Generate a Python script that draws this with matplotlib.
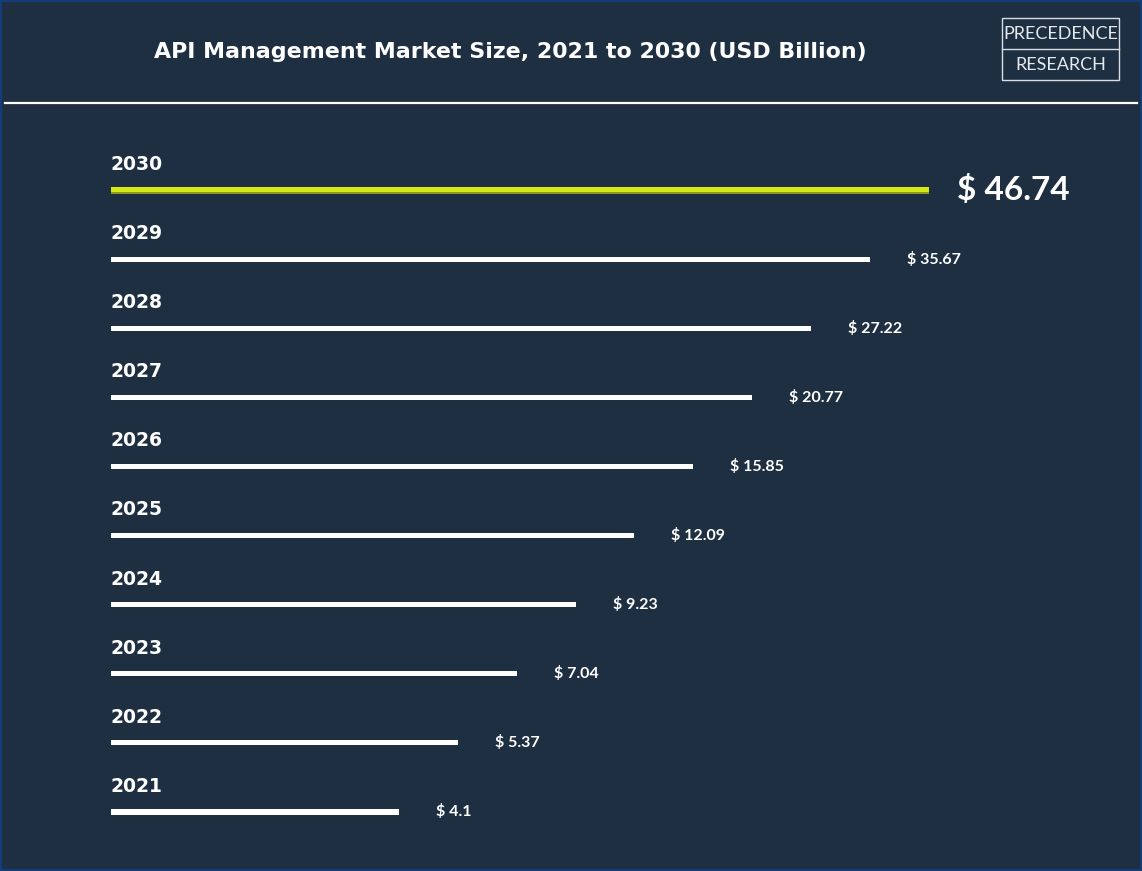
import matplotlib.pyplot as plt
from matplotlib.patches import Rectangle

# data
years = ['2021', '2022', '2023', '2024', '2025', '2026', '2027', '2028', '2029', '2030']
values = [4.1, 5.37, 7.04, 9.23, 12.09, 15.85, 20.77, 27.22, 35.67, 46.74]
# the bars in the original are drawn by rank, not to scale
bar_len = [4.88, 5.88, 6.88, 7.88, 8.86, 9.86, 10.86, 11.86, 12.86, 13.86]

bg = '#1f2f42'
lime = '#d4e816'
narrow = ['Lato', 'DejaVu Sans']
sans = ['DejaVu Sans']

fig = plt.figure(figsize=(11.42, 8.71), dpi=100, facecolor=bg)

# bar area: x starts at px 111, 59 px per unit; y rows ~69 px apart
ax = fig.add_axes([111 / 1142, 0, 1 - 111 / 1142, 1])
ax.set_facecolor('none')
ax.set_xlim(0, (1142 - 111) / 59)
ax.set_ylim(-0.854, 11.75)
ax.axis('off')

pos = list(range(len(years)))
for i, (yr, v, L) in enumerate(zip(years, values, bar_len)):
    last = i == len(years) - 1
    if last:
        ax.barh(pos[i] - 0.01, L, height=0.09, color='#8a9a1c', left=0)
        ax.barh(pos[i] + 0.005, L, height=0.08, color=lime, left=0)
    else:
        ax.barh(pos[i], L, height=0.075, color='white', left=0)
    ax.text(0, pos[i] + 0.37, yr, color='white', fontsize=13.5,
            family=sans, fontweight='bold', va='center', ha='left')
    if last:
        ax.annotate('$ %g' % v, (L, pos[i]), xytext=(20, 0),
                    textcoords='offset points', color='white', fontsize=24,
                    family=narrow, fontweight='bold', va='center', ha='left')
    else:
        ax.annotate('$ %g' % v, (L, pos[i]), xytext=(27, 0),
                    textcoords='offset points', color='white', fontsize=11.5,
                    family=narrow, fontweight='bold', va='center', ha='left')

# title and header rule
fig.text(510 / 1142, 1 - 52 / 871, 'API Management Market Size, 2021 to 2030 (USD Billion)',
         color='white', fontsize=15.9, family=sans, fontweight='bold',
         ha='center', va='center')
fig.add_artist(plt.Line2D([5 / 1142, 1137 / 1142], [1 - 103 / 871] * 2,
                          color='white', lw=1.6))

# logo box
fig.add_artist(Rectangle((1002 / 1142, 1 - 80 / 871), 117 / 1142, 62 / 871,
                         fill=False, ec='#d8dde3', lw=1.0))
fig.add_artist(plt.Line2D([1002 / 1142, 1119 / 1142], [1 - 49 / 871] * 2,
                          color='#d8dde3', lw=1.0))
fig.text(1060.5 / 1142, 1 - 34 / 871, 'PRECEDENCE', color='#e6e9ed', fontsize=13,
         family=narrow, ha='center', va='center')
fig.text(1060.5 / 1142, 1 - 65 / 871, 'RESEARCH', color='#e6e9ed', fontsize=13,
         family=narrow, ha='center', va='center')

# outer frame
fig.add_artist(Rectangle((0, 0), 1, 1, fill=False, ec='#123d7a', lw=3))

fig.savefig('out.png', dpi=100, facecolor=bg)
